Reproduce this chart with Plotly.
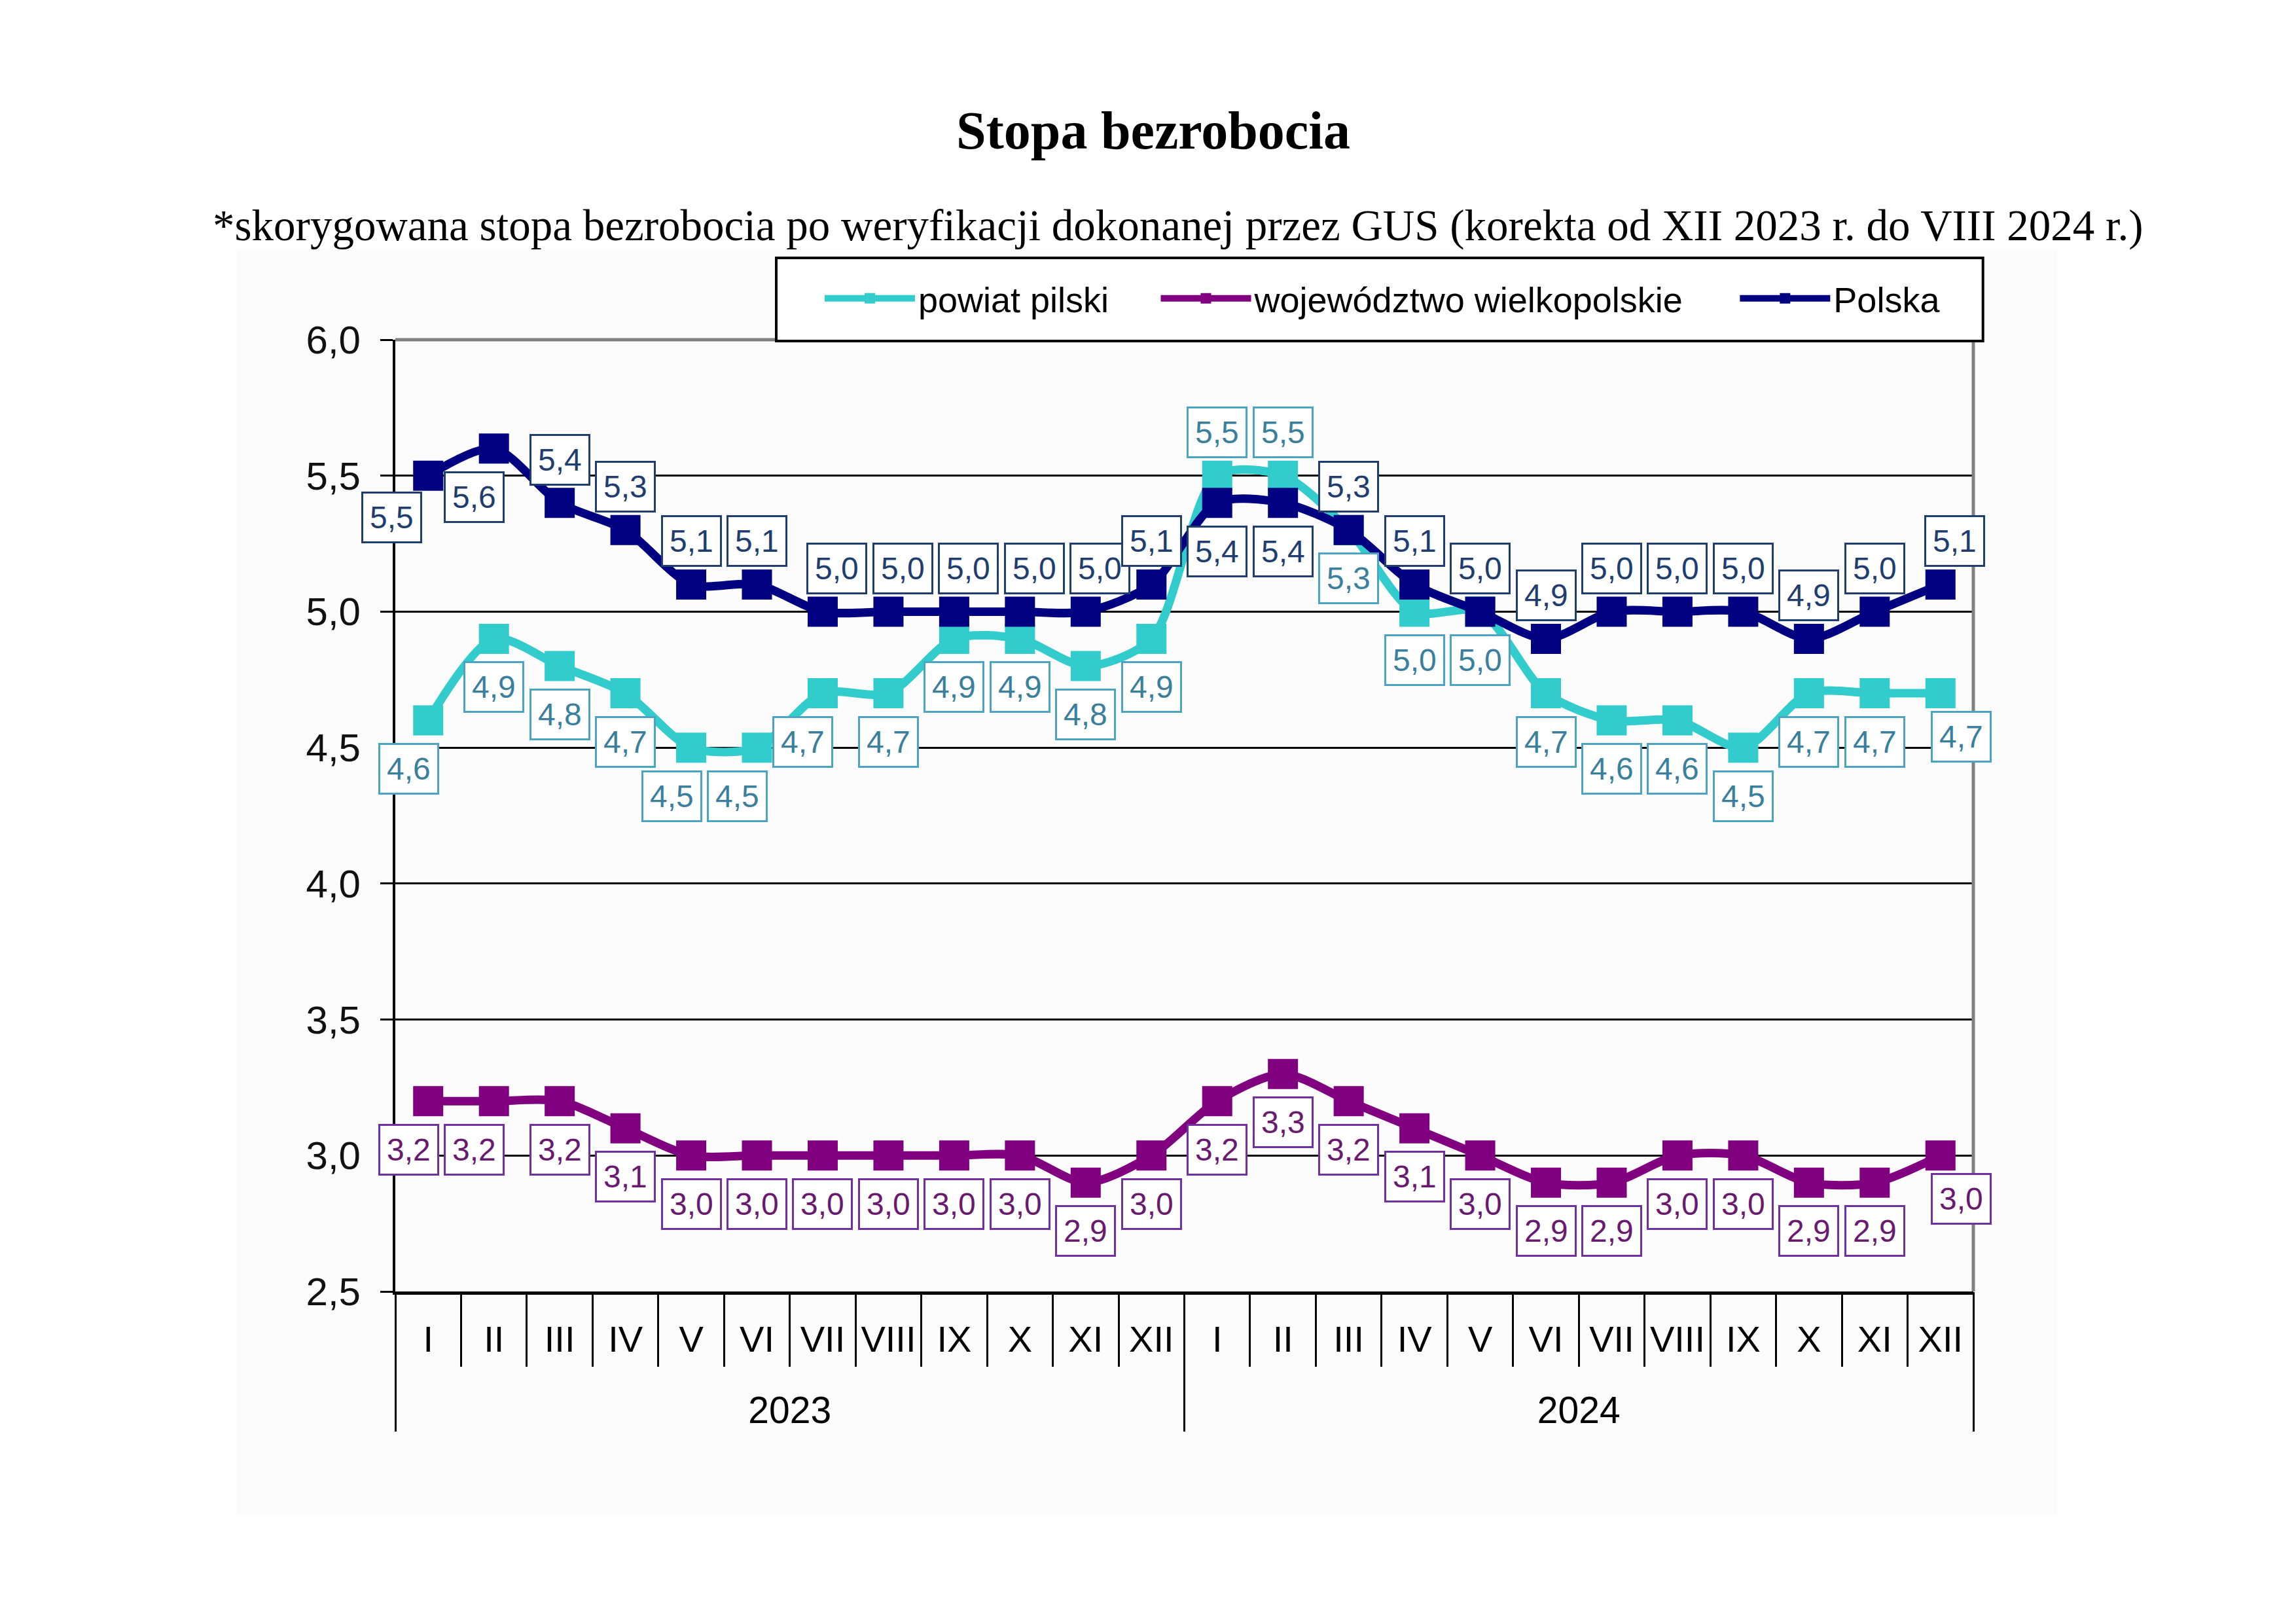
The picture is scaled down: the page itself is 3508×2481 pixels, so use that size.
import plotly.graph_objects as go

years = ["2023"] * 12 + ["2024"] * 12
months = ["I", "II", "III", "IV", "V", "VI", "VII", "VIII", "IX", "X", "XI", "XII"] * 2

powiat_pilski = [4.6, 4.9, 4.8, 4.7, 4.5, 4.5, 4.7, 4.7, 4.9, 4.9, 4.8, 4.9,
                 5.5, 5.5, 5.3, 5.0, 5.0, 4.7, 4.6, 4.6, 4.5, 4.7, 4.7, 4.7]
wielkopolskie = [3.2, 3.2, 3.2, 3.1, 3.0, 3.0, 3.0, 3.0, 3.0, 3.0, 2.9, 3.0,
                 3.2, 3.3, 3.2, 3.1, 3.0, 2.9, 2.9, 3.0, 3.0, 2.9, 2.9, 3.0]
polska = [5.5, 5.6, 5.4, 5.3, 5.1, 5.1, 5.0, 5.0, 5.0, 5.0, 5.0, 5.1,
          5.4, 5.4, 5.3, 5.1, 5.0, 4.9, 5.0, 5.0, 5.0, 4.9, 5.0, 5.1]

names = ["powiat pilski", "województwo wielkopolskie", "Polska"]

# label placement codes (t = above, b = below, bl = below-left, br = below-right)
pos_powiat = ["bl", "b", "b", "b", "bl", "bl", "bl", "b", "b", "b", "b", "b",
              "t", "t", "b", "b", "b", "b", "b", "b", "b", "b", "b", "br"]
pos_woj = ["bl", "bl", "b", "b", "b", "b", "b", "b", "b", "b", "b", "b",
           "b", "b", "b", "b", "b", "b", "b", "b", "b", "b", "b", "br"]
pos_polska = ["bll", "bl", "t", "t", "t", "t", "tr", "tr", "tr", "tr", "tr", "t",
              "b", "b", "t", "t", "t", "t", "t", "t", "t", "t", "t", "tr"]

SHIFT = {"t": (0, 66), "tr": (22, 66), "b": (0, -74), "bl": (-30, -74),
         "bll": (-56, -64), "br": (32, -66)}

line_colors = ["#33CCCC", "#800080", "#000080"]
label_text = ["#3A7F9C", "#6A1A6E", "#1F3D6E"]
label_border = ["#4BA5C2", "#7030A0", "#1F3D6E"]

series = [powiat_pilski, wielkopolskie, polska]
positions = [pos_powiat, pos_woj, pos_polska]
legend_ids = ["legend", "legend2", "legend3"]
legend_x = [0.2700, 0.4830, 0.8500]

# category positions derived from the lists
idx = list(range(len(months)))
month_bounds = [i - 0.5 for i in range(len(months) + 1)]
year_names = list(dict.fromkeys(years))
year_centers = [sum(i for i, y in enumerate(years) if y == yn) /
                years.count(yn) for yn in year_names]
year_bounds = [-0.5] + [i + 0.5 for i in range(len(years))
                        if i == len(years) - 1 or years[i] != years[i + 1]]

fig = go.Figure()
for s, name, col, lg in zip(series, names, line_colors, legend_ids):
    fig.add_trace(go.Scatter(
        x=idx, y=s, name=name, mode="lines+markers",
        line=dict(color=col, width=13, shape="spline", smoothing=0.8),
        marker=dict(symbol="square", size=46, color=col),
        legend=lg,
    ))
# invisible trace to activate the year axis
fig.add_trace(go.Scatter(x=[idx[0]], y=[None], xaxis="x2", showlegend=False,
                         hoverinfo="skip", mode="markers"))

annotations = []
for k, (s, pos) in enumerate(zip(series, positions)):
    for i, v in enumerate(s):
        dx, dy = SHIFT[pos[i]]
        annotations.append(dict(
            x=i, y=v, xref="x", yref="y", showarrow=False,
            text=f"{v:.1f}".replace(".", ","),
            font=dict(family="Liberation Sans", size=48, color=label_text[k]),
            bgcolor="white", bordercolor=label_border[k], borderwidth=3,
            borderpad=10, xshift=dx, yshift=dy,
        ))

annotations.append(dict(
    x=0.496, y=1.1203, xref="paper", yref="paper", showarrow=False,
    text="*skorygowana stopa bezrobocia po weryfikacji dokonanej przez GUS (korekta od XII 2023 r. do VIII 2024 r.)",
    font=dict(family="Liberation Serif", size=67, color="black"),
    xanchor="center", yanchor="middle",
))

shapes = [
    dict(type="rect", xref="paper", yref="paper", x0=-0.1004, x1=1.0531,
         y0=-0.2352, y1=1.0956, fillcolor="#FCFCFC", line=dict(width=0),
         layer="below"),
    dict(type="line", xref="paper", yref="paper", x0=0, x1=1, y0=1, y1=1,
         line=dict(color="#808080", width=5), layer="above"),
    dict(type="line", xref="paper", yref="paper", x0=1, x1=1, y0=0, y1=1,
         line=dict(color="#808080", width=5), layer="above"),
    dict(type="rect", xref="paper", yref="paper", x0=0.2414, x1=1.0061,
         y0=0.9986, y1=1.086, fillcolor="white",
         line=dict(color="black", width=4), layer="above"),
]

legend_style = dict(orientation="h", yanchor="middle", xanchor="left",
                    bgcolor="rgba(0,0,0,0)", borderwidth=0,
                    font=dict(family="Liberation Sans", size=54, color="black"),
                    itemwidth=138)

xrange = [month_bounds[0], month_bounds[-1]]

fig.update_layout(
    width=3508, height=2481,
    margin=dict(l=596, r=501, t=511, b=516, autoexpand=False),
    paper_bgcolor="white", plot_bgcolor="rgba(0,0,0,0)",
    separators=", ",
    font=dict(family="Liberation Sans", color="black"),
    title=dict(text="<b>Stopa bezrobocia</b>", x=0.5, xanchor="center",
               y=0.9234, yanchor="middle", xref="container", yref="container",
               font=dict(family="Liberation Serif", size=82, color="black")),
    showlegend=True,
    legend=dict(x=legend_x[0], y=1.0433, **legend_style),
    legend2=dict(x=legend_x[1], y=1.0433, **legend_style),
    legend3=dict(x=legend_x[2], y=1.0433, **legend_style),
    annotations=annotations,
    shapes=shapes,
    xaxis=dict(range=xrange, autorange=False, showline=True, linecolor="black",
               linewidth=5, tickmode="array", tickvals=idx, ticktext=months,
               ticks="", showgrid=False, zeroline=False, tickangle=0,
               tickfont=dict(family="Liberation Sans", size=56, color="black"),
               ticklabelstandoff=20,
               minor=dict(tickmode="array", tickvals=month_bounds, ticks="outside",
                          ticklen=110, tickwidth=3, tickcolor="black",
                          showgrid=False)),
    xaxis2=dict(range=xrange, autorange=False, overlaying="x", side="bottom",
                anchor="y", showline=False, tickmode="array",
                tickvals=year_centers, ticktext=year_names, ticks="",
                showgrid=False, zeroline=False, tickangle=0,
                tickfont=dict(family="Liberation Sans", size=57, color="black"),
                ticklabelstandoff=143,
                minor=dict(tickmode="array", tickvals=year_bounds, ticks="outside",
                           ticklen=213, tickwidth=3, tickcolor="black",
                           showgrid=False)),
    yaxis=dict(range=[2.5, 6.0], dtick=0.5, tick0=2.5, tickformat=".1f",
               showline=True, linecolor="black", linewidth=4,
               ticks="outside", ticklen=19, tickwidth=3, tickcolor="black",
               showgrid=True, gridcolor="black", gridwidth=3, zeroline=False,
               tickfont=dict(family="Liberation Sans", size=60, color="#111"),
               ticklabelstandoff=18),
)

fig.write_html("out.html")
